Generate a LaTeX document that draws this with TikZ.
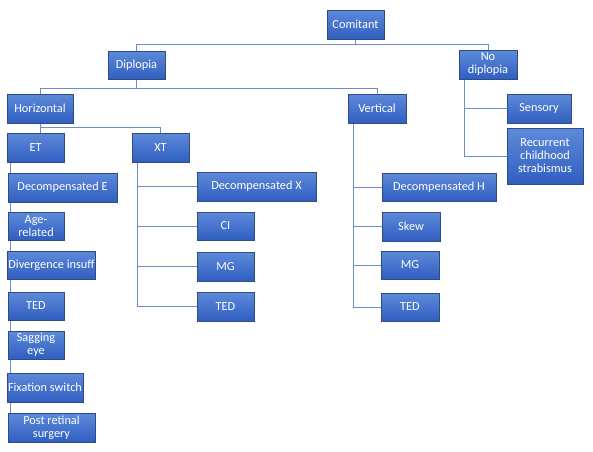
\documentclass[tikz,border=0pt]{standalone}
\usepackage{fontspec}
\setmainfont{Carlito}
\usetikzlibrary{backgrounds}
\definecolor{boxtop}{HTML}{5E8ADA}
\definecolor{boxbot}{HTML}{2F5EC0}
\definecolor{boxline}{HTML}{2E4C86}
\definecolor{link}{HTML}{6C8DCD}
\tikzset{
  bx/.style={rectangle,draw=boxline,line width=0.9pt,top color=boxtop,bottom color=boxbot,
    text=white,align=center,inner sep=1pt,minimum height=29pt,
    font=\fontsize{12.3}{13}\selectfont},
  ln/.style={draw=link,line width=0.9pt},
}
\begin{document}
\begin{tikzpicture}[x=1pt,y=-1pt]
\useasboundingbox (0,0) rectangle (593,451);
% top levels
\node[bx,minimum width=57] (com) at (355.5,24.5){Comitant};
\node[bx,minimum width=57,minimum height=28] (dip) at (136.5,65){Diplopia};
\node[bx,minimum width=58] (nodip) at (488,64.5){No\\diplopia};
\node[bx,minimum width=66] (hor) at (40,108.5){Horizontal};
\node[bx,minimum width=58] (ver) at (377,108.5){Vertical};
\node[bx,minimum width=57] (et) at (35.5,147.5){ET};
\node[bx,minimum width=57] (xt) at (160.5,147.5){XT};
% no diplopia
\node[bx,minimum width=64] (sens) at (539,108.5){Sensory};
\node[bx,minimum width=76,minimum height=56] (recur) at (545,156){Recurrent\\childhood\\strabismus};
% ET
\node[bx,minimum width=109] (decE) at (62.5,187.5){Decompensated E};
\node[bx,minimum width=56,minimum height=28] (age) at (36,226){Age-\\related};
\node[bx,minimum width=87,minimum height=28] (div) at (51.5,265){Divergence insuff};
\node[bx,minimum width=56,minimum height=28] (tedE) at (36,306){TED};
\node[bx,minimum width=56,minimum height=28] (sag) at (36,345){Sagging\\eye};
\node[bx,minimum width=74] (fix) at (45,387.5){Fixation switch};
\node[bx,minimum width=87] (post) at (51.5,427.5){Post retinal\\surgery};
% XT
\node[bx,minimum width=119] (decX) at (256.5,186.5){Decompensated X};
\node[bx,minimum width=57,minimum height=28] (ci) at (225.5,226){CI};
\node[bx,minimum width=57] (mgX) at (225.5,266.5){MG};
\node[bx,minimum width=57] (tedX) at (225.5,306.5){TED};
% vertical
\node[bx,minimum width=114,minimum height=28] (decH) at (439,187){Decompensated H};
\node[bx,minimum width=58] (skew) at (411,226.5){Skew};
\node[bx,minimum width=58,minimum height=28] (mgV) at (410,265){MG};
\node[bx,minimum width=58,minimum height=28] (tedV) at (410,307){TED};
\begin{scope}[on background layer]
\draw[ln] (com.south) -- ++(0,5) -| (dip.north);
\draw[ln] (com.south) -- ++(0,5) -| (nodip.north);
\draw[ln] (dip.south) -- ++(0,9) -| (hor.north);
\draw[ln] (dip.south) -- ++(0,9) -| (ver.north);
\draw[ln] (hor.south) -- ++(0,4) -| (xt.north);
\draw[ln] (hor.south) -- (hor.south |- et.north);
\foreach \c in {sens,recur} \draw[ln] ([xshift=6]nodip.south west) |- (\c.west);
\foreach \c in {decE,age,div,tedE,sag,fix,post} \draw[ln] ([xshift=4]et.south west) |- (\c.west);
\foreach \c in {decX,ci,mgX,tedX} \draw[ln] ([xshift=6]xt.south west) |- (\c.west);
\foreach \c in {decH,skew,mgV,tedV} \draw[ln] ([xshift=6]ver.south west) |- (\c.west);
\end{scope}
\end{tikzpicture}
\end{document}
